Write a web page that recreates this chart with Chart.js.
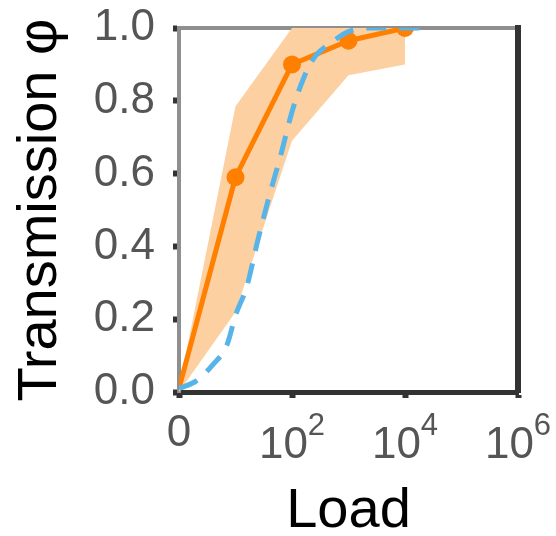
<!DOCTYPE html>
<html>
<head>
<meta charset="utf-8">
<script src="https://cdn.jsdelivr.net/npm/chart.js@4"></script>
<style>
  html, body { margin: 0; padding: 0; background: #fff; }
  #wrap { width: 556px; height: 536px; }
</style>
</head>
<body>
<div id="wrap"><canvas id="chart" width="556" height="536"></canvas></div>
<script>
// load as decades (0 = no load), transmission phi
const loadExp = [0, 1, 2, 3, 4];
const transmission = [0.01, 0.59, 0.90, 0.965, 1.0];
const bandLow = [0, 0.22, 0.69, 0.87, 0.90];
const bandHigh = [0.01, 0.785, 1.0, 1.0, 1.0];

// model curve (dashed)
const modelExp = [0, 0.3, 0.6, 0.85, 1.0, 1.2, 1.4, 1.6, 1.8, 2.0, 2.2, 2.4, 2.7, 3.0, 3.4, 4.4];
const modelPhi = [0.01, 0.03, 0.075, 0.13, 0.21, 0.29, 0.42, 0.54, 0.65, 0.77, 0.86, 0.92, 0.96, 0.99, 1.0, 1.0];

// x tick labels: base + exponent
const xTickExp = [0, 2, 4, 6];
const xTickBase = ['0', '10', '10', '10'];
const xTickSup = ['', '2', '4', '6'];

const FONT = 'Liberation Sans, Arial, sans-serif';
const ORANGE = '#ff7f00';
const BAND = '#fdd0a2';
const BLUE = '#56b4e9';
const DARK = '#333333';
const GREY = '#8f8f8f';

const pts = (xs, ys) => xs.map((x, i) => ({ x: x, y: ys[i] }));

// fixed box sizes so the plot area sits where the original does
function fixSize(w, h) {
  return function (s) {
    if (w !== null) s.width = w;
    if (h !== null) s.height = h;
    s.paddingTop = 0; s.paddingBottom = 0; s.paddingLeft = 0; s.paddingRight = 0;
  };
}

// draws "0", "10^2" ... under the bottom axis
const xLabelPlugin = {
  id: 'xLabels',
  afterDraw(chart) {
    const sc = chart.scales.x;
    const ctx = chart.ctx;
    ctx.save();
    ctx.fillStyle = '#555555';
    ctx.textBaseline = 'alphabetic';
    xTickExp.forEach((v, i) => {
      const px = sc.getPixelForValue(v);
      if (!xTickSup[i]) {
        ctx.font = '44px ' + FONT;
        ctx.textAlign = 'center';
        ctx.fillText(xTickBase[i], px, sc.top + 54);
        return;
      }
      ctx.font = '44px ' + FONT;
      const wb = ctx.measureText(xTickBase[i]).width;
      ctx.font = '31px ' + FONT;
      const ws = ctx.measureText(xTickSup[i]).width;
      const x0 = px - (wb + ws) / 2;
      ctx.textAlign = 'left';
      ctx.font = '44px ' + FONT;
      ctx.fillText(xTickBase[i], x0, sc.top + 65.5);
      ctx.font = '31px ' + FONT;
      ctx.fillText(xTickSup[i], x0 + wb, sc.top + 42.5);
    });
    ctx.restore();
  }
};

new Chart(document.getElementById('chart'), {
  type: 'line',
  data: {
    datasets: [
      {
        data: pts(modelExp, modelPhi),
        borderColor: BLUE,
        borderWidth: 5,
        borderDash: [20, 13],
        pointRadius: 0,
        cubicInterpolationMode: 'monotone',
        fill: false,
        order: 0
      },
      {
        data: pts(loadExp, transmission),
        borderColor: ORANGE,
        backgroundColor: ORANGE,
        borderWidth: 5,
        pointRadius: [0, 9, 9, 9, 9],
        pointBorderWidth: 0,
        pointBackgroundColor: ORANGE,
        fill: false,
        order: 1
      },
      {
        data: pts(loadExp, bandHigh),
        borderWidth: 0,
        borderColor: 'rgba(0,0,0,0)',
        backgroundColor: BAND,
        pointRadius: 0,
        fill: '+1',
        order: 2
      },
      {
        data: pts(loadExp, bandLow),
        borderWidth: 0,
        borderColor: 'rgba(0,0,0,0)',
        pointRadius: 0,
        fill: false,
        order: 3
      }
    ]
  },
  options: {
    responsive: false,
    animation: false,
    layout: { padding: 0 },
    plugins: { legend: { display: false }, tooltip: { enabled: false } },
    scales: {
      x: {
        type: 'linear', position: 'bottom', min: 0, max: 6, z: 1,
        ticks: { stepSize: 2, display: false },
        grid: { drawOnChartArea: false, drawTicks: true, tickLength: 6, tickWidth: 6, tickColor: DARK },
        border: { color: DARK, width: 5 },
        title: { display: true, text: 'Load', color: '#000', font: { family: FONT, size: 56, lineHeight: 0.8 }, padding: { top: 0, bottom: 2 } },
        afterFit: fixSize(null, 144)
      },
      x2: {
        type: 'linear', position: 'top', min: 0, max: 6, z: 1,
        ticks: { display: false },
        grid: { display: false },
        border: { color: GREY, width: 4 },
        afterFit: fixSize(null, 28)
      },
      y: {
        type: 'linear', position: 'left', min: 0, max: 1, z: 1,
        ticks: { stepSize: 0.2, autoSkip: false, padding: 18, color: '#555555', font: { family: FONT, size: 44 }, callback: v => v.toFixed(1) },
        grid: { drawOnChartArea: false, drawTicks: true, tickLength: 6, tickWidth: 6, tickColor: DARK },
        border: { color: GREY, width: 4 },
        title: { display: true, text: 'Transmission φ', color: '#000', font: { family: FONT, size: 56, lineHeight: 0.8 }, padding: { top: 18, bottom: 0 } },
        afterFit: fixSize(179, null)
      },
      y2: {
        type: 'linear', position: 'right', min: 0, max: 1, z: 1,
        ticks: { display: false },
        grid: { display: false },
        border: { color: DARK, width: 6 },
        afterFit: fixSize(38, null)
      }
    }
  },
  plugins: [xLabelPlugin]
});
</script>
</body>
</html>
